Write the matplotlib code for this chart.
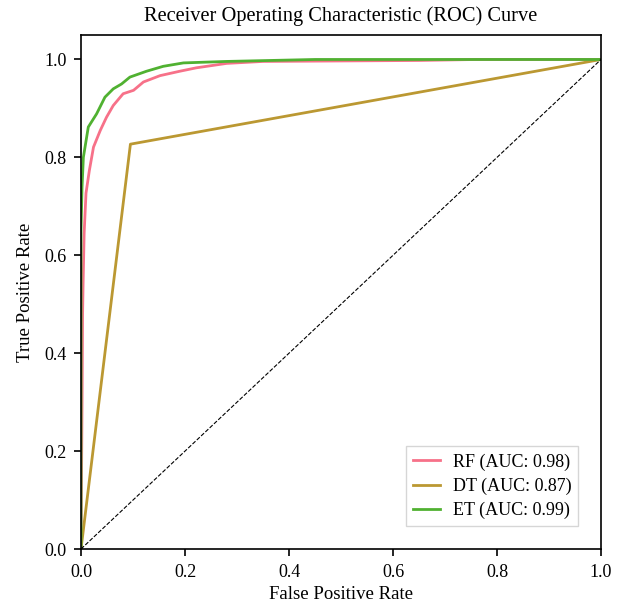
import numpy as np
import matplotlib
matplotlib.use("Agg")
import matplotlib.pyplot as plt
import seaborn as sns

# ROC points
rf_fpr = [0.0, 0.002, 0.003, 0.004, 0.006, 0.0096, 0.016, 0.024, 0.037, 0.049, 0.062,
          0.081, 0.101, 0.12, 0.152, 0.19, 0.222, 0.28, 0.35, 0.5, 0.65, 0.76, 1.0]
rf_tpr = [0.0, 0.3, 0.48, 0.543, 0.645, 0.727, 0.773, 0.821, 0.855, 0.882, 0.906,
          0.93, 0.937, 0.954, 0.967, 0.976, 0.983, 0.992, 0.996, 0.997, 0.998, 1.0, 1.0]

dt_fpr = [0.0, 0.095, 1.0]
dt_tpr = [0.0, 0.827, 1.0]

et_fpr = [0.0, 0.0, 0.002, 0.0045, 0.014, 0.030, 0.046, 0.062, 0.078, 0.094, 0.126,
          0.158, 0.197, 0.28, 0.45, 1.0]
et_tpr = [0.0, 0.65, 0.74, 0.80, 0.862, 0.889, 0.923, 0.940, 0.950, 0.964, 0.976,
          0.986, 0.993, 0.996, 1.0, 1.0]

models = ["RF", "DT", "ET"]
aucs = [0.98, 0.87, 0.99]

plt.rcParams['font.family'] = ['Liberation Serif', 'DejaVu Serif']
colors = sns.color_palette("husl", 6)[:3]

fig = plt.figure(figsize=(6.3, 6.13), dpi=100)
ax = fig.add_axes([0.1286, 0.1044, 0.8254, 0.8385])

curves = [(rf_fpr, rf_tpr), (dt_fpr, dt_tpr), (et_fpr, et_tpr)]
for (fpr, tpr), name, auc, c in zip(curves, models, aucs, colors):
    ax.plot(fpr, tpr, color=c, lw=2, label=f"{name} (AUC: {auc:.2f})")

ax.plot([0, 1], [0, 1], 'k--', lw=0.8)
ax.set_xlim(0.0, 1.0)
ax.set_ylim(0.0, 1.05)
ax.set_xlabel('False Positive Rate', fontsize=13.5)
ax.set_ylabel('True Positive Rate', fontsize=13.5, labelpad=7)
ax.set_title('Receiver Operating Characteristic (ROC) Curve', fontsize=14.7, pad=10)
ax.tick_params(labelsize=13, length=5, width=1.2, pad=5.5)
for s in ax.spines.values():
    s.set_linewidth(1.2)
ax.legend(loc='lower right', fontsize=13, fancybox=False, borderpad=0.4,
          labelspacing=0.38, handlelength=1.5, handletextpad=0.7,
          borderaxespad=1.25)

fig.savefig("out.png", dpi=100)
